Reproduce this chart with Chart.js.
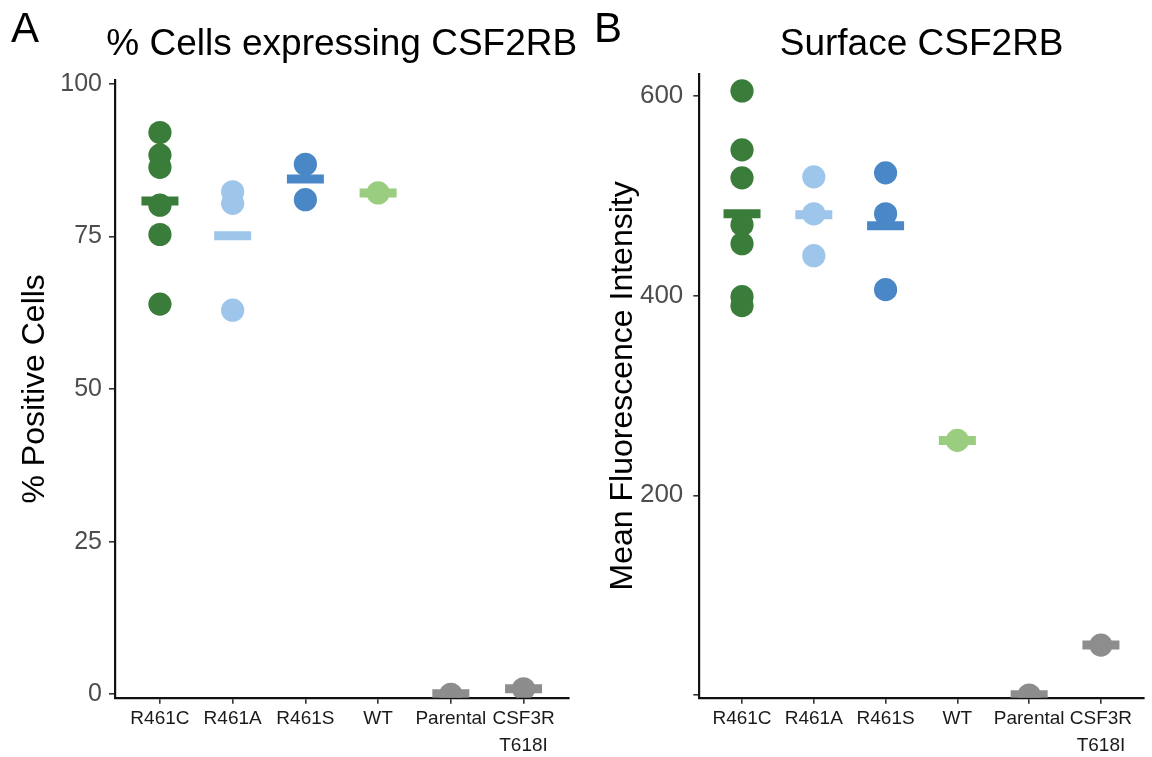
<!DOCTYPE html>
<html><head><meta charset="utf-8">
<script src="https://cdn.jsdelivr.net/npm/chart.js@4.4.1/dist/chart.umd.min.js"></script>
<style>
html,body{margin:0;padding:0;background:#fff;}
#wrap{position:relative;width:1152px;height:757px;overflow:hidden;background:#fff;}
.panel{position:absolute;top:0;height:757px;}
#pA{left:0;width:590px;}
#pB{left:590px;width:562px;}
</style></head><body>
<div id="wrap">
  <div class="panel" id="pA"><canvas id="cA"></canvas></div>
  <div class="panel" id="pB"><canvas id="cB"></canvas></div>
</div>
<script>
// ---- shared categories / tick labels ----
const categories = ['R461C', 'R461A', 'R461S', 'WT', 'Parental', 'CSF3R T618I'];
const xTickLabels = ['R461C', 'R461A', 'R461S', 'WT', 'Parental', ['CSF3R', 'T618I']];
const groupColors = ['#3A7D3B', '#9DC6EA', '#4A87C6', '#9ACD7F', '#8D8D8D', '#8D8D8D'];

// ---- Panel A: % Cells expressing CSF2RB ----
const pctR461C = [92.0, 88.3, 86.3, 80.1, 75.3, 63.9];
const pctR461A = [82.3, 80.4, 62.9];
const pctR461S = [86.8, 81.0];
const pctWT = [82.1];
const pctParental = [0.0];
const pctCSF3R = [0.9];
const pctMeans = [80.8, 75.1, 84.4, 82.1, 0.1, 0.9];
const pctTicks = [0, 25, 50, 75, 100];
const pctTickLabels = ['0', '25', '50', '75', '100'];

// ---- Panel B: Surface CSF2RB (MFI) ----
const mfiR461C = [605, 546, 518, 471, 452, 399, 390];
const mfiR461A = [519, 482, 440];
const mfiR461S = [523, 482, 406];
const mfiWT = [255];
const mfiParental = [0];
const mfiCSF3R = [50];
const mfiMeans = [482, 481, 470, 255, 0.3, 50];
const mfiTicks = [0, 200, 400, 600];
const mfiTickLabels = ['', '200', '400', '600'];

const FONT = '"Liberation Sans", Arial, Helvetica, sans-serif';

const headerPlugin = {
  id: 'header',
  afterDraw(chart, args, opts) {
    const ctx = chart.ctx;
    const a = chart.chartArea;
    ctx.save();
    ctx.fillStyle = '#000';
    ctx.textBaseline = 'alphabetic';
    ctx.textAlign = 'left';
    ctx.font = '42px ' + FONT;
    ctx.fillText(opts.letter, opts.letterX, 42);
    ctx.font = '37px ' + FONT;
    ctx.textAlign = 'center';
    ctx.fillText(opts.title, (a.left + a.right) / 2, 55);
    ctx.restore();
  }
};

function buildDatasets(groups, means) {
  const ds = [];
  // means first so they draw on top
  means.forEach((m, i) => {
    ds.push({
      label: categories[i] + ' mean',
      data: [{x: i, y: m}],
      pointStyle: 'line',
      pointRadius: 18.5,
      pointHoverRadius: 18.5,
      borderWidth: 9,
      pointBorderWidth: 9,
      borderColor: groupColors[i],
      backgroundColor: groupColors[i],
      clip: 0
    });
  });
  groups.forEach((vals, i) => {
    ds.push({
      label: categories[i],
      data: vals.map(v => ({x: i, y: v})),
      pointStyle: 'circle',
      pointRadius: 11.6,
      pointHoverRadius: 11.6,
      borderWidth: 0,
      pointBorderWidth: 0,
      backgroundColor: groupColors[i],
      borderColor: groupColors[i],
      clip: 0
    });
  });
  return ds;
}

function makeChart(id, cfg) {
  return new Chart(document.getElementById(id), {
    type: 'scatter',
    data: {datasets: buildDatasets(cfg.groups, cfg.means)},
    plugins: [headerPlugin],
    options: {
      responsive: true,
      maintainAspectRatio: false,
      animation: false,
      devicePixelRatio: 1,
      events: [],
      layout: {autoPadding: false, padding: {left: 0, top: cfg.top, right: cfg.right, bottom: 0}},
      plugins: {
        legend: {display: false},
        tooltip: {enabled: false},
        header: {letter: cfg.letter, letterX: cfg.letterX, title: cfg.title}
      },
      scales: {
        x: {
          type: 'linear',
          min: cfg.xmin, max: cfg.xmax,
          afterBuildTicks: s => { s.ticks = categories.map((c, i) => ({value: i})); },
          afterFit: s => { s.height = 757 - cfg.bottom; s.paddingLeft = 0; s.paddingRight = 0; },
          ticks: {
            autoSkip: false, maxRotation: 0, minRotation: 0,
            padding: 2,
            color: '#1a1a1a',
            font: {family: FONT, size: 19, lineHeight: 1.4},
            callback: v => xTickLabels[v]
          },
          grid: {drawOnChartArea: false, drawTicks: true, tickLength: 6, color: '#333', lineWidth: 1.6},
          border: {display: true, color: '#111', width: 2.2}
        },
        y: {
          type: 'linear',
          min: cfg.ymin, max: cfg.ymax,
          afterBuildTicks: s => { s.ticks = cfg.ticks.map(v => ({value: v})); },
          afterFit: s => { s.width = cfg.left; },
          ticks: {
            padding: cfg.tickPad,
            color: '#4D4D4D',
            font: {family: FONT, size: cfg.tickSize},
            callback: v => cfg.tickLabels[cfg.ticks.indexOf(v)]
          },
          grid: {drawOnChartArea: false, drawTicks: true, tickLength: 6, color: '#333', lineWidth: 1.6},
          border: {display: true, color: '#111', width: 2.2},
          title: {
            display: true, text: cfg.ytitle, color: '#000',
            font: {family: FONT, size: 32},
            padding: {top: cfg.titlePad, bottom: 0}
          }
        }
      }
    }
  });
}

makeChart('cA', {
  groups: [pctR461C, pctR461A, pctR461S, pctWT, pctParental, pctCSF3R],
  means: pctMeans,
  ticks: pctTicks, tickLabels: pctTickLabels,
  ymin: -0.56, ymax: 100.6,
  xmin: -0.618, xmax: 5.618,
  top: 80, bottom: 697.7, left: 115, right: 21.5,
  tickPad: 7, tickSize: 25, titlePad: 16,
  letter: 'A', letterX: 11,
  title: '% Cells expressing CSF2RB',
  ytitle: '% Positive Cells'
});

makeChart('cB', {
  groups: [mfiR461C, mfiR461A, mfiR461S, mfiWT, mfiParental, mfiCSF3R],
  means: mfiMeans,
  ticks: mfiTicks, tickLabels: mfiTickLabels,
  ymin: -2.7, ymax: 622,
  xmin: -0.595, xmax: 5.6,
  top: 74, bottom: 697.7, left: 109.3, right: 8,
  tickPad: 10, tickSize: 26, titlePad: 14,
  letter: 'B', letterX: 4,
  title: 'Surface CSF2RB',
  ytitle: 'Mean Fluorescence Intensity'
});
</script>
</body></html>
